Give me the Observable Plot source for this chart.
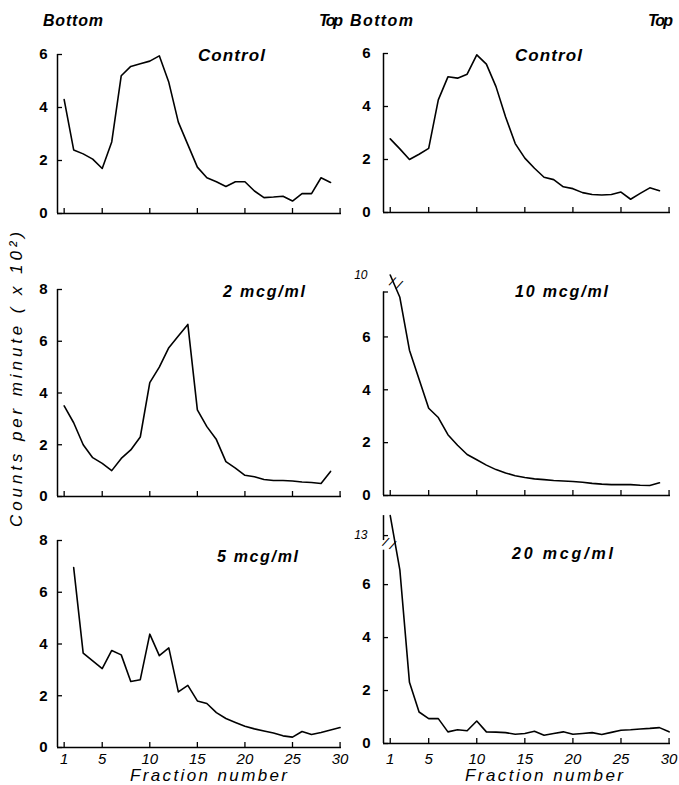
<!DOCTYPE html>
<html><head><meta charset="utf-8">
<script src="https://cdn.jsdelivr.net/npm/d3@7"></script>
<script src="https://cdn.jsdelivr.net/npm/@observablehq/plot@0.6"></script>
<style>
html,body{margin:0;padding:0;background:#fff;}
#root{position:relative;width:679px;height:785px;overflow:hidden;background:#fff;font-family:"Liberation Sans",Arial,sans-serif;color:#000;}
.lbl{position:absolute;white-space:nowrap;line-height:1;font-family:"Liberation Sans",Arial,sans-serif;}
.panel{position:absolute;}
</style></head><body><div id="root"></div>
<script>
// ---------- data ----------
const xTicks = [1, 5, 10, 15, 20, 25, 30];

const fracA = [1,2,3,4,5,6,7,8,9,10,11,12,13,14,15,16,17,18,19,20,21,22,23,24,25,26,27,28,29];
const controlLeft = [4.3, 2.4, 2.25, 2.05, 1.7, 2.7, 5.2, 5.55, 5.65, 5.75, 5.95, 4.95, 3.45, 2.6, 1.75, 1.35, 1.2, 1.02, 1.2, 1.2, 0.85, 0.6, 0.62, 0.65, 0.47, 0.75, 0.75, 1.35, 1.17];

const fracB = [1,2,3,4,5,6,7,8,9,10,11,12,13,14,15,16,17,18,19,20,21,22,23,24,25,26,27,28,29];
const controlRight = [2.78, 2.4, 2.0, 2.2, 2.42, 4.25, 5.12, 5.07, 5.22, 5.95, 5.6, 4.75, 3.6, 2.6, 2.05, 1.67, 1.33, 1.24, 0.97, 0.9, 0.75, 0.68, 0.66, 0.68, 0.77, 0.5, 0.72, 0.93, 0.82];

const fracC = [1,2,3,4,5,6,7,8,9,10,11,12,13,14,15,16,17,18,19,20,21,22,23,24,25,26,27,28,29];
const mcg2 = [3.5, 2.85, 2.0, 1.5, 1.28, 1.0, 1.47, 1.8, 2.3, 4.4, 5.0, 5.75, 6.2, 6.65, 3.35, 2.7, 2.2, 1.35, 1.1, 0.82, 0.76, 0.66, 0.62, 0.62, 0.6, 0.56, 0.54, 0.5, 0.97];

const fracD = [1,2,3,4,5,6,7,8,9,10,11,12,13,14,15,16,17,18,19,20,21,22,23,24,25,26,27,28,29];
const mcg10 = [10, 7.5, 5.5, 4.4, 3.3, 2.95, 2.3, 1.9, 1.55, 1.35, 1.15, 0.98, 0.85, 0.75, 0.68, 0.63, 0.6, 0.57, 0.55, 0.53, 0.5, 0.46, 0.43, 0.41, 0.41, 0.41, 0.39, 0.38, 0.48];

const fracE = [2,3,4,5,6,7,8,9,10,11,12,13,14,15,16,17,18,19,20,21,22,23,24,25,26,27,28,29,30];
const mcg5 = [6.95, 3.65, 3.35, 3.05, 3.75, 3.58, 2.55, 2.62, 4.38, 3.55, 3.85, 2.15, 2.4, 1.8, 1.7, 1.35, 1.12, 0.97, 0.82, 0.72, 0.64, 0.56, 0.45, 0.4, 0.62, 0.5, 0.58, 0.68, 0.77];

const fracF = [1,2,3,4,5,6,7,8,9,10,11,12,13,14,15,16,17,18,19,20,21,22,23,24,25,26,27,28,29,30];
const mcg20 = [15, 6.56, 2.31, 1.19, 0.94, 0.94, 0.44, 0.52, 0.48, 0.85, 0.44, 0.43, 0.41, 0.35, 0.38, 0.46, 0.31, 0.38, 0.44, 0.35, 0.38, 0.41, 0.34, 0.42, 0.5, 0.52, 0.55, 0.57, 0.6, 0.44];

// ---------- layout ----------
const root = document.getElementById("root");
const xDomain = [0.3, 30.15];
const LEFT = {left: 0, width: 355, mL: 57, mR: 14, yPad: 10};
const RIGHT = {left: 340, width: 339, mL: 43, mR: 9, yPad: 13};
const FONT = '"Liberation Sans", Arial, sans-serif';

// broken-axis mapping: values above the break are drawn compressed
function breakFn(b) {
  if (!b) return v => v;
  return v => v <= b.lo ? v : (v < b.hi ? b.lo : b.lo + b.gap + (v - b.hi) * b.k);
}

function panel(col, cfg) {
  const mT = 24, mB = cfg.xLabels ? 40 : 12;
  const height = cfg.frameBottom - cfg.frameTop + mT + mB;
  const svgTop = cfg.frameTop - mT;
  const yf = breakFn(cfg.brkAxis);
  const data = cfg.fr.map((f, i) => ({f, v: cfg.vals[i]}));
  const marks = [
    Plot.ruleY([0], {stroke: "#000", strokeWidth: 1.5}),
    Plot.ruleX(cfg.axisSegs, {x: () => xDomain[0], y1: d => yf(d[0]), y2: d => yf(d[1]), stroke: "#000", strokeWidth: 1.5}),
    Plot.axisX({ticks: xTicks, tickSize: 5, dy: -5, tickFormat: () => "", strokeWidth: 1.3, label: null}),
    Plot.axisY({ticks: cfg.yTicks.map(yf), tickSize: 5, dx: 5, tickFormat: () => "", strokeWidth: 1.3, label: null}),
    Plot.axisY({ticks: cfg.yLabels, tickSize: 0, tickPadding: col.yPad, fontSize: 15, fontWeight: "bold", tickFormat: d => String(d), label: null}),
  ];
  if (cfg.extraY) marks.push(Plot.axisY({ticks: [yf(cfg.extraY)], tickSize: 0, tickPadding: col.yPad + 3, fontSize: 12, fontStyle: "italic", tickFormat: () => String(cfg.extraY), label: null}));
  if (cfg.xLabels) marks.push(Plot.axisX({ticks: xTicks, tickSize: 0, tickPadding: cfg.xPad, fontSize: 15, fontStyle: "italic", label: null, tickFormat: d => String(d)}));
  if (cfg.brk) marks.push(Plot.text([cfg.brk], {x: "f", y: d => yf(d.v), text: () => "/ /", fontSize: 12, rotate: 25, fontFamily: "DejaVu Sans"}));
  marks.push(Plot.line(data, {x: "f", y: d => yf(d.v), stroke: "#000", strokeWidth: 1.6}));
  const chart = Plot.plot({
    width: col.width, height,
    marginLeft: col.mL, marginRight: col.mR, marginTop: mT, marginBottom: mB,
    x: {domain: xDomain, label: null},
    y: {domain: cfg.yDomain, label: null},
    style: {background: "transparent", fontFamily: FONT, color: "#000", overflow: "visible"},
    marks
  });
  chart.classList.add("panel");
  chart.style.left = col.left + "px";
  chart.style.top = svgTop + "px";
  root.appendChild(chart);
}

panel(LEFT, {fr: fracA, vals: controlLeft, frameTop: 54, frameBottom: 213, yDomain: [0, 6], yTicks: [0,2,4,6], yLabels: [0,2,4,6], axisSegs: [[0, 6]]});
panel(RIGHT, {fr: fracB, vals: controlRight, frameTop: 53, frameBottom: 212, yDomain: [0, 6], yTicks: [0,2,4,6], yLabels: [0,2,4,6], axisSegs: [[0, 6]]});
panel(LEFT, {fr: fracC, vals: mcg2, frameTop: 289, frameBottom: 496, yDomain: [0, 8], yTicks: [0,2,4,6,8], yLabels: [0,2,4,6,8], axisSegs: [[0, 8]]});
panel(RIGHT, {fr: fracD, vals: mcg10, frameTop: 273, frameBottom: 495, yDomain: [0, 8.4],
  brkAxis: {lo: 7.7, hi: 7.7, gap: 0, k: 0.28},
  yTicks: [0,2,4,6,7.7], yLabels: [0,2,4,6], extraY: 10, axisSegs: [[0, 7.7]], brk: {f: 1.6, v: 8.9}});
panel(LEFT, {fr: fracE, vals: mcg5, frameTop: 540, frameBottom: 747, yDomain: [0, 8], yTicks: [0,2,4,6,8], yLabels: [0,2,4,6,8], axisSegs: [[0, 8]], xLabels: true, xPad: 6});
panel(RIGHT, {fr: fracF, vals: mcg20, frameTop: 515, frameBottom: 743, yDomain: [0, 8.61],
  brkAxis: {lo: 7.55, hi: 12.5, gap: 0.113, k: 0.377},
  yTicks: [0,2,4,6,13], yLabels: [0,2,4,6], extraY: 13, axisSegs: [[0, 7.3], [12.5, 15]], xLabels: true, xPad: 10, brk: {f: 0.9, v: 7.6}});

// ---------- text labels ----------
function label(txt, o) {
  const el = document.createElement("div");
  el.className = "lbl";
  el.textContent = txt;
  el.style.fontSize = o.size + "px";
  el.style.fontWeight = o.weight || "normal";
  el.style.fontStyle = o.style || "italic";
  root.appendChild(el);
  const nat = el.getBoundingClientRect().width;
  const n = [...txt].length;
  if (o.w && n > 1) el.style.letterSpacing = ((o.w - nat) / (n - 1)) + "px";
  const b = 0.8465 * o.size;
  if (o.rotate) {
    el.style.transformOrigin = "0 0";
    el.style.transform = "rotate(-90deg)";
    el.style.left = (o.x - b) + "px";
    el.style.top = o.y + "px";
  } else {
    el.style.left = o.x + "px";
    el.style.top = (o.base - b) + "px";
  }
}
label("Bottom", {x: 43, base: 27, w: 60, size: 16, weight: "bold"});
label("Top", {x: 319, base: 27, w: 24, size: 16, weight: "bold"});
label("Bottom", {x: 350, base: 27, w: 63, size: 16, weight: "bold"});
label("Top", {x: 648, base: 27, w: 25, size: 16, weight: "bold"});
label("Control", {x: 198, base: 61, w: 67, size: 17, weight: "bold"});
label("Control", {x: 515, base: 61, w: 67, size: 17, weight: "bold"});
label("2 mcg/ml", {x: 223, base: 298, w: 82, size: 16, weight: "bold"});
label("10 mcg/ml", {x: 515, base: 298, w: 93, size: 16, weight: "bold"});
label("5 mcg/ml", {x: 217, base: 563, w: 81, size: 16, weight: "bold"});
label("20 mcg/ml", {x: 512, base: 560, w: 101, size: 16, weight: "bold"});
label("Fraction number", {x: 130, base: 781, w: 157, size: 17});
label("Fraction number", {x: 465, base: 781, w: 158, size: 17});
label("Counts per minute ( x 10²)", {x: 22, y: 527, w: 295, size: 17, rotate: true});
</script>
</body></html>
